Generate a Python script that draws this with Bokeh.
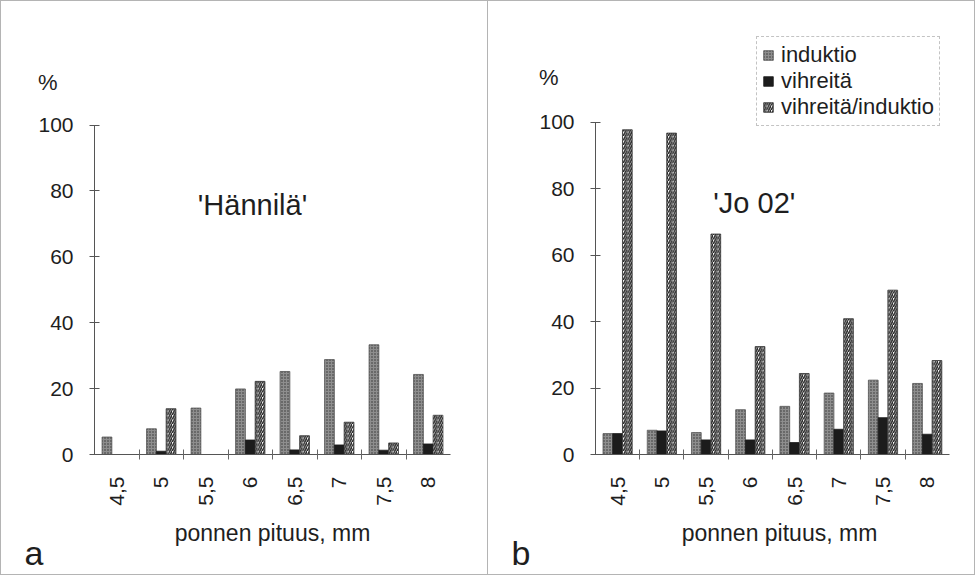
import numpy as np
from bokeh.plotting import figure
from bokeh.layouts import row
from bokeh.models import (FixedTicker, Label, Legend, LegendItem, ColumnDataSource,
                          Title, LinearAxis)
from bokeh.transform import dodge
from bokeh.embed import file_html
from bokeh.resources import INLINE

# anther length classes (mm)
lengths = ["4,5", "5", "5,5", "6", "6,5", "7", "7,5", "8"]

# 'Hännilä'
hannila_induktio = [5.3, 7.8, 14.1, 19.9, 25.2, 28.8, 33.3, 24.3]
hannila_vihreita = [0.0, 1.0, 0.0, 4.4, 1.4, 2.9, 1.3, 3.2]
hannila_suhde = [0.0, 13.9, 0.0, 22.2, 5.7, 9.8, 3.5, 11.9]

# 'Jo 02'
jo02_induktio = [6.3, 7.3, 6.6, 13.5, 14.5, 18.5, 22.4, 21.4]
jo02_vihreita = [6.3, 7.1, 4.4, 4.4, 3.6, 7.6, 11.1, 6.1]
jo02_suhde = [97.8, 96.8, 66.4, 32.5, 24.4, 40.9, 49.5, 28.3]

y_ticks = [0, 20, 40, 60, 80, 100]

FONT = "Liberation Sans"
INK = "#1e1e1e"
BAR_W = 0.22
FRAME = "1px solid #b4b4b4"


def panel(induktio, vihreita, suhde, title, letter, frame_left, x_end, px_per_x,
          y_end, bottom, width, title_xy, pct_y, with_legend=False):
    n = len(lengths)
    centers = np.arange(n) + 0.5
    frame_w = int(round(x_end * px_per_x))
    p = figure(width=width, height=575, x_range=(0, x_end), y_range=(0, y_end),
               output_backend="svg", toolbar_location=None,
               min_border_left=frame_left, min_border_right=width - frame_left - frame_w,
               min_border_top=29, min_border_bottom=bottom,
               background_fill_color="white", border_fill_color="white")
    p.outline_line_color = None
    p.grid.visible = False

    src = ColumnDataSource(dict(x=centers, ind=induktio, vih=vihreita, suh=suhde))
    r1 = p.vbar(x=dodge("x", -BAR_W), top="ind", width=BAR_W, source=src,
                fill_color="#8e8e8e", line_color="#555555", line_width=0.8,
                hatch_pattern="dot", hatch_color="#303030", hatch_scale=3.0,
                hatch_weight=1.0)
    r2 = p.vbar(x="x", top="vih", width=BAR_W, source=src,
                fill_color="#1c1c1c", line_color="#1c1c1c", line_width=0.8)
    r3 = p.vbar(x=dodge("x", BAR_W), top="suh", width=BAR_W, source=src,
                fill_color="white", line_color="#333333", line_width=0.8,
                hatch_pattern="right_diagonal_line", hatch_color="#222222",
                hatch_scale=4.5, hatch_weight=1.5)

    # y axis: 0..100 with cross ticks every 20
    yax = p.yaxis[0]
    yax.bounds = (0, 100)
    yax.ticker = FixedTicker(ticks=y_ticks)
    yax.major_tick_in = 5
    yax.major_tick_out = 5
    yax.minor_tick_line_color = None
    yax.axis_line_color = "#555555"
    yax.major_tick_line_color = "#555555"
    yax.major_label_text_font = FONT
    yax.major_label_text_font_size = "21px"
    yax.major_label_text_color = INK
    yax.major_label_standoff = 16

    # unit sign above the y axis
    unit = LinearAxis(ticker=FixedTicker(ticks=[pct_y]),
                      major_label_overrides={pct_y: "%"},
                      axis_line_color=None, major_tick_line_color=None,
                      minor_tick_line_color=None, major_tick_in=0, major_tick_out=0,
                      major_label_standoff=-22, major_label_text_font=FONT,
                      major_label_text_font_size="22px", major_label_text_color=INK)
    p.add_layout(unit, "left")

    # x axis: labels at class centres, short cross ticks between classes
    xax = p.xaxis[0]
    xax.bounds = (0, n)
    xax.ticker = FixedTicker(ticks=list(centers), minor_ticks=list(range(1, n)))
    xax.major_label_overrides = {float(c): lab for c, lab in zip(centers, lengths)}
    xax.major_tick_line_color = None
    xax.minor_tick_in = 5
    xax.minor_tick_out = 5
    xax.minor_tick_line_color = "#666666"
    xax.axis_line_color = "#555555"
    xax.major_label_orientation = np.pi / 2
    xax.major_label_text_font = FONT
    xax.major_label_text_font_size = "21px"
    xax.major_label_text_color = INK
    xax.major_label_standoff = 16
    xax.axis_label = "ponnen pituus, mm"
    xax.axis_label_text_font = FONT
    xax.axis_label_text_font_style = "normal"
    xax.axis_label_text_font_size = "23px"
    xax.axis_label_text_color = INK
    xax.axis_label_standoff = 11

    # cultivar name inside the plot area
    p.add_layout(Label(x=title_xy[0], y=title_xy[1], text=title, text_font=FONT,
                       text_font_size="29px", text_color=INK,
                       text_align="center", text_baseline="alphabetic"))

    # panel letter beside the x axis title
    p.add_layout(Title(text=letter, align="left", offset=-frame_left + 23, standoff=-47,
                       text_font=FONT, text_font_size="34px",
                       text_font_style="normal", text_color=INK), "below")

    if with_legend:
        legend = Legend(items=[LegendItem(label="induktio", renderers=[r1]),
                               LegendItem(label="vihreitä", renderers=[r2]),
                               LegendItem(label="vihreitä/induktio", renderers=[r3])],
                        location=(161, 328), label_text_font=FONT,
                        label_text_font_size="22px", label_text_color=INK,
                        glyph_width=12, glyph_height=12, label_standoff=7,
                        spacing=0, padding=5, margin=0, label_height=22,
                        border_line_color="#888888", border_line_dash="2 2",
                        background_fill_alpha=0)
        p.add_layout(legend, "center")
    return p


left = panel(hannila_induktio, hannila_vihreita, hannila_suhde, "'Hännilä'", "a",
             frame_left=93, x_end=8.0, px_per_x=44.5, y_end=128.7, bottom=119,
             width=488, title_xy=(3.55, 75.8), pct_y=113.0)
right = panel(jo02_induktio, jo02_vihreita, jo02_suhde, "'Jo 02'", "b",
              frame_left=107, x_end=8.32, px_per_x=44.25, y_end=127.7, bottom=122,
              width=487, title_xy=(3.59, 75.7), pct_y=113.5, with_legend=True)

left.styles = {"border-left": FRAME, "border-right": FRAME,
               "border-top": FRAME, "border-bottom": FRAME}
right.styles = {"border-right": FRAME, "border-top": FRAME, "border-bottom": FRAME}

layout = row(left, right)
open("out.html", "w").write(file_html(layout, INLINE))
